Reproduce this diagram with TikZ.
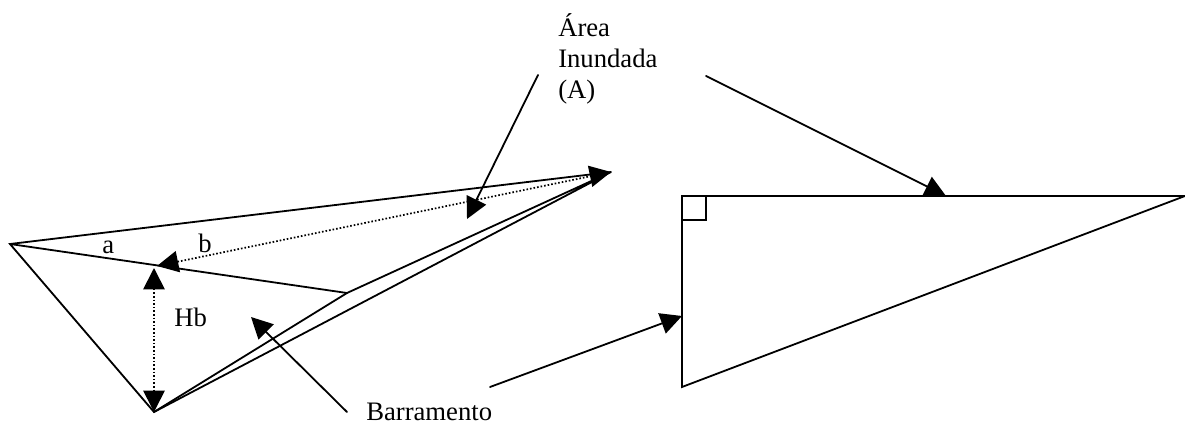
\documentclass[tikz,border=0pt]{standalone}
\usepackage{fontspec}
\setmainfont{Liberation Serif}
\usetikzlibrary{arrows.meta}
\tikzset{
  edge/.style={draw=black,line width=1.35pt,line cap=round,line join=miter},
  arr/.style={edge,-{Triangle[length=16pt,width=16pt]}},
  dotline/.style={draw=black,line width=1.3pt,dash pattern=on 1.2pt off 1.5pt,{Triangle[length=16pt,width=16pt]}-{Triangle[length=16pt,width=16pt]}},
  lab/.style={inner sep=0pt,font=\fontsize{20pt}{20pt}\selectfont,anchor=base west}
}
\begin{document}
\begin{tikzpicture}[x=0.75pt,y=-0.75pt]
\useasboundingbox (0,0) rectangle (1185,423);
% triangle on the left
\coordinate (L) at (10,244);
\coordinate (B) at (154,412);
\coordinate (T) at (611,172);
\coordinate (M) at (347,293);
\coordinate (Hup) at (154,268);
\coordinate (Dhead) at (157,266);
\draw[edge] (T) -- (L) -- (B) -- (T) -- (M) -- (L);
\draw[edge] (B) -- (M);
\draw[dotline] (Dhead) -- (T);
\draw[dotline] (Hup) -- (B);
% right triangle
\coordinate (R1) at (682,196);
\coordinate (R2) at (1185,196);
\coordinate (R3) at (682,387);
\draw[edge] (R1) -- (R2) -- (R3) -- cycle;
\coordinate (S1) at (706,196);
\coordinate (S2) at (706,220);
\coordinate (S3) at (682,220);
\draw[edge] (S1) -- (S2) -- (S3);
% labels
\node[lab] (area) at (558,37) {Área};
\node[lab] (inund) at (558,68) {Inundada};
\node[lab] (aa) at (558,99) {(A)};
\node[lab] (a) at (102,254) {a};
\node[lab] (b) at (198,253) {b};
\node[lab] (hb) at (174,327) {Hb};
\node[lab] (barr) at (366,421) {Barramento};
% pointers
\coordinate (A1s) at (538,75);
\coordinate (A1e) at (467,219);
\coordinate (A2s) at (706,76);
\coordinate (A2e) at (946,196);
\coordinate (B1s) at (490,387);
\coordinate (B1e) at (682,316);
\coordinate (B2s) at (347,412);
\coordinate (B2e) at (251,317);
\draw[arr] (A1s) -- (A1e);
\draw[arr] (A2s) -- (A2e);
\draw[arr] (B1s) -- (B1e);
\draw[arr] (B2s) -- (B2e);
\end{tikzpicture}
\end{document}
